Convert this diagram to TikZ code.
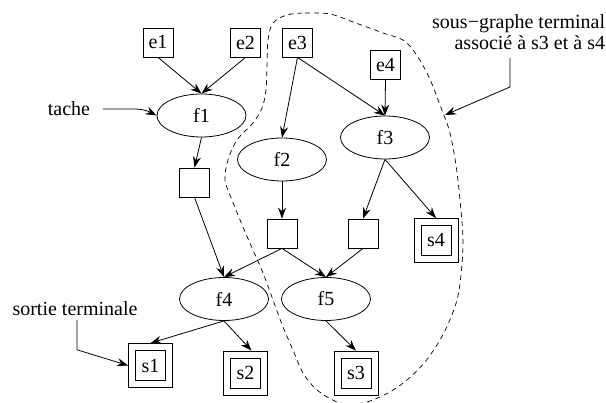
\documentclass[tikz,border=0pt]{standalone}
\usepackage{fontspec}
\setmainfont{Liberation Serif}
\usetikzlibrary{shapes.geometric,arrows.meta}
\begin{document}
\begin{tikzpicture}[x=1pt,y=-1pt,line width=0.8pt,
  font=\fontsize{20}{21}\selectfont,
  sq/.style={draw, rectangle, minimum width=30pt, minimum height=29pt, inner sep=0pt},
  fn/.style={draw, ellipse, minimum width=89pt, minimum height=43pt, inner sep=0pt},
  term/.style={draw, rectangle, minimum size=44pt, inner sep=0pt,
    path picture={\draw[line width=0.8pt] ([shift={(7pt,7pt)}]path picture bounding box.south west) rectangle ([shift={(-7pt,-7pt)}]path picture bounding box.north east);}},
  arr/.style={-{Stealth[length=11pt,width=8pt]}},
  lbl/.style={inner sep=0pt}]
\useasboundingbox (0,0) rectangle (606,403);

% dashed sub-graph boundary
\draw[dashed, dash pattern=on 5pt off 4pt, line width=0.7pt] plot[smooth cycle, tension=0.55] coordinates {
 (287,15) (305,13) (330,14) (353,22) (383,33) (407,43) (427,73) (443,113) (450,133)
 (456,165) (460,200) (463,240) (461,275) (457,300) (449,322) (440,340) (425,362)
 (407,380) (388,393) (367,402) (352,404) (337,402) (317,390) (303,373) (293,350)
 (283,327) (273,300) (263,273) (253,250) (243,227) (232,200) (225,180) (228,160)
 (237,140) (253,123) (262,108) (266,90) (267,67) (268,40) (273,23)};

% nodes
\node[sq] (e1) at (158,42.5) {e1};
\node[sq] (e2) at (245.5,42.5) {e2};
\node[sq] (e3) at (297.5,42.5) {e3};
\node[sq] (e4) at (385.5,65) {e4};
\node[fn] (f1) at (201.5,115.5) {f1};
\node[sq] (b1) at (194.5,182.5) {};
\node[fn] (f2) at (282,159.5) {f2};
\node[fn] (f3) at (385,137.5) {f3};
\node[sq] (b2) at (282,233.5) {};
\node[sq] (b3) at (363,233.5) {};
\node[term] (s4) at (436,240.5) {s4};
\node[fn] (f4) at (224,299) {f4};
\node[fn] (f5) at (326,299) {f5};
\node[term] (s1) at (150.5,365.5) {s1};
\node[term] (s2) at (245.5,373) {s2};
\node[term] (s3) at (356,373) {s3};

% labels
\node (tache) at (69,109) {tache};
\node (sortie) at (75,309) {sortie terminale};
\node[lbl, align=right, anchor=north east] (sous) at (605.5,14.3) {sous−graphe terminal\\associé à s3 et à s4};
\coordinate (sA) at (510,58);
\coordinate (sB) at (445,115);

% edges
\draw[arr] (e1.south) -- (f1.north);
\draw[arr] (e2.south) -- (f1.north);
\draw[arr] (f1.south) -- (b1.north);
\draw[arr] (b1.south) -- (f4.north);
\draw[arr] (e3.south) -- (f2.north);
\draw[arr] (e3.south) -- (f3.north);
\draw[arr] (e4.south) -- (f3.north);
\draw[arr] (f2.south) -- (b2.north);
\draw[arr] (f3.south) -- (b3.north);
\draw[arr] (f3.south) -- (s4.north);
\draw[arr] (b2.south) -- (f4.north);
\draw[arr] (b2.south) -- (f5.north);
\draw[arr] (b3.south) -- (f5.north);
\draw[arr] (f4.south) -- (s1.north);
\draw[arr] (f4.south) -- ([xshift=6pt]s2.north);
\draw[arr] (f5.south) -- (s3.north);

% annotation arrows
\draw[arr] ([xshift=9pt]tache.east) -- ++(31,0) .. controls +(10,0) and +(-8,-4) .. (f1.west);
\draw[arr] ([xshift=2pt]sortie.south) -- ++(0,30) -- (s1.west);
\draw[arr] (sA) -- ++(0,29) -- (sB);
\end{tikzpicture}
\end{document}
